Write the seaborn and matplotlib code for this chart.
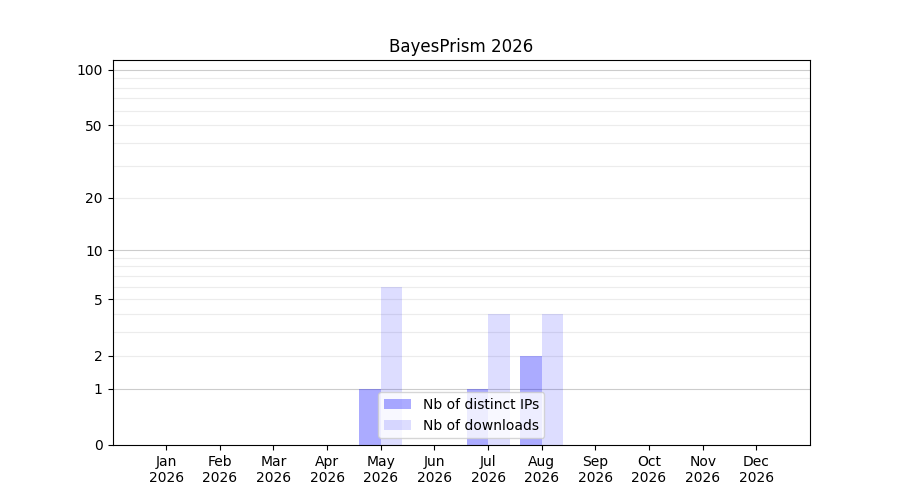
import numpy as np
import pandas as pd
import matplotlib
matplotlib.use("Agg")
import matplotlib.pyplot as plt
import seaborn as sns

# --- data ---
months = ["Jan", "Feb", "Mar", "Apr", "May", "Jun",
          "Jul", "Aug", "Sep", "Oct", "Nov", "Dec"]
year = "2026"
distinct_ips = [0, 0, 0, 0, 1, 0, 1, 2, 0, 0, 0, 0]
downloads = [0, 0, 0, 0, 6, 0, 4, 4, 0, 0, 0, 0]

ip_label = "Nb of distinct IPs"
dl_label = "Nb of downloads"

y_ticks = [0, 1, 2, 5, 10, 20, 50, 100]

df = pd.DataFrame({
    "month": months * 2,
    "count": distinct_ips + downloads,
    "series": [ip_label] * len(months) + [dl_label] * len(months),
})

fig, ax = plt.subplots(figsize=(9, 5), dpi=100)

# log(1+x) scale so that zero can be shown
ax.set_yscale("function", functions=(lambda v: np.log10(np.maximum(v, 0) + 1),
                                     lambda v: 10 ** v - 1))

sns.barplot(data=df, x="month", y="count", hue="series",
            hue_order=[ip_label, dl_label],
            palette=["blue", "blue"], saturation=1, width=0.8,
            errorbar=None, ax=ax, zorder=2)

alphas = {ip_label: 0.33, dl_label: 0.135}
for container, name in zip(ax.containers, [ip_label, dl_label]):
    for bar in container:
        bar.set_alpha(alphas[name])

# grid lines: darker on decades, lighter in between
for v in [1, 10, 100]:
    ax.axhline(v, color="#cccccc", lw=0.8, zorder=1)
for base in [1, 10]:
    for k in range(2, 10):
        ax.axhline(base * k, color="#ececec", lw=0.8, zorder=1)

ax.set_ylim(0, 113)
ax.set_yticks(y_ticks)
ax.set_yticklabels([str(t) for t in y_ticks])
ax.yaxis.set_minor_locator(matplotlib.ticker.NullLocator())

ax.set_xlim(-1, 12)
ax.set_xticks(range(len(months)))
ax.set_xticklabels([f"{m}\n{year}" for m in months])
ax.set_xlabel("")
ax.set_ylabel("")
ax.set_title(f"BayesPrism {year}")

handles, labels = ax.get_legend_handles_labels()
for h, name in zip(handles, labels):
    h.set_alpha(alphas[name])
ax.legend(handles, labels, loc="lower center")

fig.savefig("out.png", dpi=100)
